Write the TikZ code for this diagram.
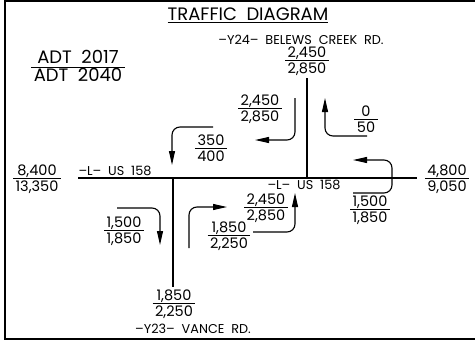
\documentclass[tikz,border=0pt]{standalone}
\usepackage{fontspec}
\setmainfont{Poppins}
\usetikzlibrary{
    arrows.meta
}

\newcommand{\Volume}[2]{%
    \begin{tabular}{@{\,}c@{\,}}#1\\[-3pt]\hline\rule{0pt}{13.5pt}#2\end{tabular}}

\tikzset{
    via/.style={line width=1.1pt},
    giro/.style={
        line width=1.1pt,
        rounded corners=8pt,
        -{Triangle[length=14pt,width=6pt]}
    },
    volume/.style={inner sep=0pt, yshift=-2.3pt, font=\fontsize{14.5}{17}\selectfont},
    rotulo/.style={inner sep=0pt, font=\fontsize{12.8}{15}\selectfont},
    titulo/.style={inner sep=0pt, font=\fontsize{18}{21}\selectfont}
}

\begin{document}
\begin{tikzpicture}[x=1pt, y=-1pt]

    \useasboundingbox (0,0) rectangle (475,340);

    \draw[line width=2pt] (475,1) -- (4.7,1) -- (4.7,338.5) -- (475,338.5);

    \node[titulo] (titulo) at (248,15) {\underline{TRAFFIC\ \ DIAGRAM}};
    \node[titulo, yshift=-1.5pt] (adt) at (78,67) {\Volume{ADT\ \ 2017}{ADT\ \ 2040}};

    % vias
    \draw[via] (78,178) -- (417,178);
    \draw[via] (307,78) -- (307,178);
    \draw[via] (173,178) -- (173,287);

    \node[rotulo] (y24) at (301,40) {--Y24--\ \ BELEWS\ \ CREEK\ \ RD.};
    \node[rotulo] (y23) at (193,329) {--Y23--\ \ VANCE\ \ RD.};
    \node[rotulo] (usOeste) at (115,171) {--L--\ \ US\ \ 158};
    \node[rotulo] (usLeste) at (304,185) {--L--\ \ US\ \ 158};

    % volumes
    \node[volume] (volY24) at (307,60) {\Volume{2,450}{2,850}};
    \node[volume] (volY23) at (174,303) {\Volume{1,850}{2,250}};
    \node[volume] (volOeste) at (37,178) {\Volume{8,400}{13,350}};
    \node[volume] (volLeste) at (447,178) {\Volume{4,800}{9,050}};
    \node[volume] (volSulDir) at (260,108) {\Volume{2,450}{2,850}};
    \node[volume] (volNorteEsq) at (366,119) {\Volume{0}{50}};
    \node[volume] (volOesteEsq) at (211,148) {\Volume{350}{400}};
    \node[volume] (volLesteEsq) at (370,209) {\Volume{1,500}{1,850}};
    \node[volume] (volNorteDir) at (266,207) {\Volume{2,450}{2,850}};
    \node[volume] (volSulEsq) at (229,235) {\Volume{1,850}{2,250}};
    \node[volume] (volOesteDir) at (124,230) {\Volume{1,500}{1,850}};

    % giros
    \draw[giro] (213,127) -| (172,165);
    \draw[giro] (295,98) |- (255,140);
    \draw[giro] (367,136) -| (325,98);
    \draw[giro] (353,193) -- (392,193) -- (392,160) -- (353,160);
    \draw[giro] (117,208) -| (160,245);
    \draw[giro] (189,248) |- (227,207);
    \draw[giro] (253,232) -| (295,193);

\end{tikzpicture}
\end{document}
